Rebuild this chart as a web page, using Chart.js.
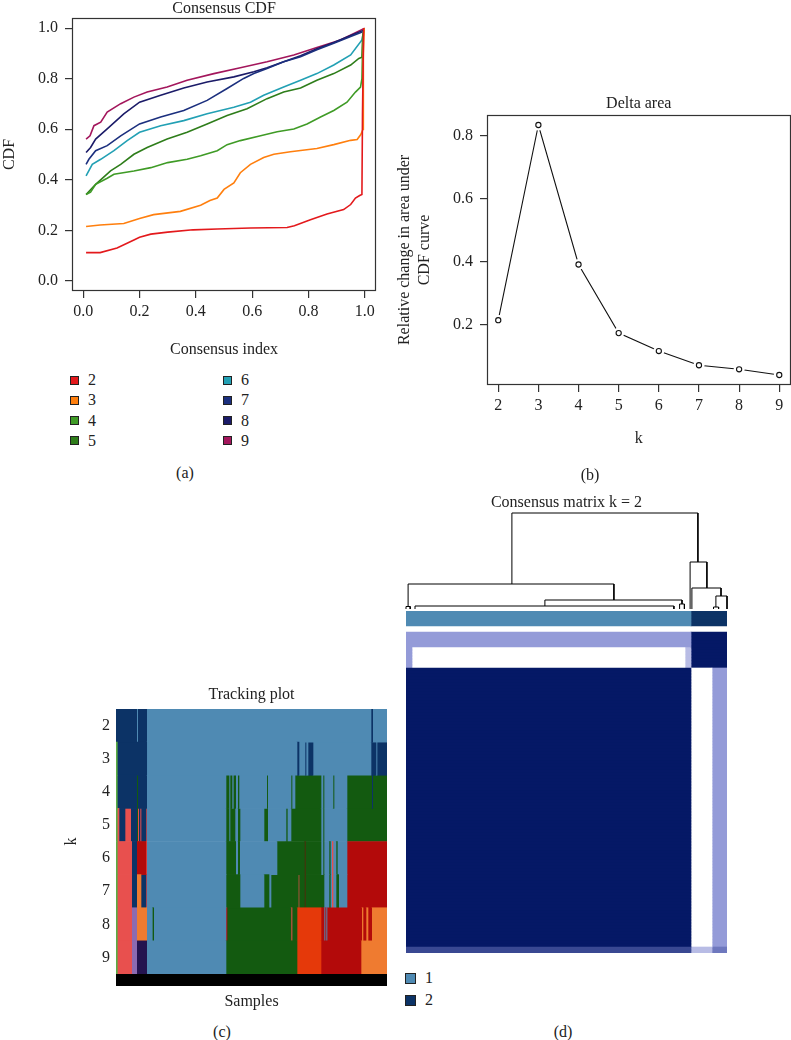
<!DOCTYPE html>
<html>
<head>
<meta charset="utf-8">
<script src="https://cdn.jsdelivr.net/npm/chart.js@4.4.1/dist/chart.umd.min.js"></script>
<style>
  body { margin: 0; background: #fff; }
  #page { position: relative; width: 791px; height: 1040px; overflow: hidden; background: #fff;
          font-family: 'Liberation Serif', 'DejaVu Serif', serif; font-size: 16px; color: #222; }
  canvas { position: absolute; }
  .lbl { position: absolute; transform: translate(-50%, -50%); white-space: nowrap; }
  .key { position: absolute; display: flex; align-items: center; transform: translateY(-50%); }
  .key span.sw { display: inline-block; border: 1px solid #222; margin-right: 9px; }
</style>
</head>
<body>
<div id="page">
  <canvas id="cdfChart" width="391" height="360" style="left:0;top:0"></canvas>
  <canvas id="deltaChart" width="405" height="380" style="left:391px;top:80px"></canvas>
  <canvas id="trackChart" width="340" height="350" style="left:60px;top:670px"></canvas>
  <canvas id="treeChart" width="341" height="127" style="left:396px;top:483px"></canvas>
  <canvas id="matrixChart" width="321" height="342" style="left:406px;top:611px"></canvas>
  <div id="cdfLegend"></div>
  <div id="matrixLegend"></div>
  <div class="lbl" style="left:185px;top:473px">(a)</div>
  <div class="lbl" style="left:590px;top:475px">(b)</div>
  <div class="lbl" style="left:222px;top:1032px">(c)</div>
  <div class="lbl" style="left:563px;top:1032px">(d)</div>
</div>
<script>
// ---- (a) Consensus CDF : [consensus index, CDF] par k
const cdfK = ['2', '3', '4', '5', '6', '7', '8', '9'];
const cdfColors = ['#e3191c', '#ff7f0e', '#3f9b26', '#2e7d1a', '#22a0b4', '#1b2f7e', '#1b1b68', '#a3165c'];
const cdf2 = [[0.01,0.112],[0.06,0.112],[0.12,0.13],[0.18,0.162],[0.2,0.173],[0.24,0.185],[0.30,0.193],[0.39,0.202],[0.476,0.205],[0.594,0.209],[0.724,0.211],[0.75,0.218],[0.807,0.242],[0.866,0.265],[0.925,0.282],[0.95,0.302],[0.967,0.328],[0.982,0.338],[0.99,0.342],[0.992,0.66],[0.996,1.0]];
const cdf3 = [[0.01,0.215],[0.06,0.221],[0.144,0.227],[0.2,0.247],[0.25,0.262],[0.345,0.275],[0.417,0.299],[0.45,0.318],[0.476,0.328],[0.5,0.362],[0.535,0.388],[0.558,0.428],[0.594,0.461],[0.641,0.488],[0.677,0.501],[0.736,0.511],[0.83,0.524],[0.89,0.539],[0.95,0.556],[0.973,0.559],[0.986,0.579],[0.994,0.6],[0.995,0.9],[0.998,1.0]];
const cdf4 = [[0.01,0.342],[0.026,0.351],[0.044,0.382],[0.085,0.406],[0.109,0.422],[0.18,0.435],[0.24,0.448],[0.30,0.468],[0.369,0.481],[0.417,0.495],[0.476,0.515],[0.511,0.539],[0.558,0.555],[0.63,0.574],[0.689,0.590],[0.748,0.601],[0.795,0.621],[0.843,0.648],[0.89,0.674],[0.937,0.707],[0.967,0.747],[0.985,0.767],[0.99,0.8],[0.993,0.95],[0.998,1.0]];
const cdf5 = [[0.01,0.342],[0.044,0.382],[0.097,0.435],[0.133,0.461],[0.18,0.501],[0.227,0.528],[0.298,0.561],[0.369,0.588],[0.44,0.621],[0.511,0.654],[0.582,0.681],[0.653,0.721],[0.712,0.747],[0.772,0.763],[0.83,0.794],[0.89,0.82],[0.95,0.854],[0.979,0.88],[0.99,0.885],[0.993,0.97],[0.998,1.0]];
const cdf6 = [[0.01,0.415],[0.032,0.461],[0.062,0.481],[0.109,0.515],[0.156,0.555],[0.2,0.588],[0.275,0.614],[0.357,0.634],[0.44,0.661],[0.535,0.687],[0.594,0.707],[0.641,0.734],[0.712,0.767],[0.772,0.794],[0.83,0.82],[0.89,0.854],[0.95,0.894],[0.99,0.953],[0.998,1.0]];
const cdf7 = [[0.01,0.461],[0.02,0.481],[0.044,0.515],[0.085,0.535],[0.133,0.574],[0.2,0.621],[0.275,0.648],[0.357,0.674],[0.44,0.714],[0.511,0.761],[0.57,0.801],[0.606,0.82],[0.653,0.840],[0.712,0.867],[0.772,0.887],[0.83,0.914],[0.89,0.94],[0.95,0.967],[0.996,0.987],[0.998,1.0]];
const cdf8 = [[0.01,0.508],[0.026,0.528],[0.044,0.561],[0.085,0.601],[0.144,0.661],[0.2,0.707],[0.275,0.734],[0.357,0.763],[0.44,0.787],[0.535,0.807],[0.606,0.827],[0.653,0.843],[0.712,0.867],[0.772,0.891],[0.83,0.918],[0.89,0.943],[0.95,0.971],[0.999,0.993]];
const cdf9 = [[0.01,0.561],[0.024,0.574],[0.038,0.614],[0.062,0.628],[0.085,0.668],[0.133,0.701],[0.18,0.727],[0.227,0.747],[0.298,0.767],[0.369,0.794],[0.464,0.82],[0.558,0.843],[0.653,0.867],[0.748,0.894],[0.83,0.923],[0.914,0.953],[1.0,1.0]];
const cdfTicks = [0, 0.2, 0.4, 0.6, 0.8, 1.0];

// ---- (b) Delta area
const deltaK = [2, 3, 4, 5, 6, 7, 8, 9];
const deltaValues = [0.213, 0.833, 0.39, 0.172, 0.115, 0.07, 0.057, 0.039];
const deltaYTicks = [0.2, 0.4, 0.6, 0.8];

// ---- (c) Tracking plot : segments [fin, couleur] (échantillons 0..271)
const trackK = ['2', '3', '4', '5', '6', '7', '8', '9'];
const nSamples = 271;
const trackPalette = {
  LB: '#4f8ab3', DB: '#0c3366', G: '#135a10', LG: '#5aac44', R: '#e8504e', DR: '#b30a0a',
  O: '#ef7b30', OR: '#e5390a', P: '#8c6bb1', DP: '#24134f', BR: '#3b3a0c'
};
const track2 = [[20.7,'DB'],[21.7,'LB'],[30.7,'DB'],[255,'LB'],[256.7,'DB'],[271,'LB']];
const track3 = [[1.3,'LG'],[30.7,'DB'],[181,'LB'],[183,'DB'],[189,'LB'],[190,'DB'],[192,'LB'],[197,'DB'],[255,'LB'],[260,'DB'],[261,'LB'],[271,'DB']];
const track4 = [[1.3,'LG'],[20.7,'DB'],[21.7,'G'],[30.7,'DB'],[110,'LB'],[113,'G'],[114,'LB'],[116,'G'],[117.3,'LB'],[119.7,'G'],[121.7,'LB'],[123,'G'],[150.7,'LB'],[151.7,'G'],[175,'LB'],[176,'G'],[179,'LB'],[205,'G'],[207,'LB'],[208,'G'],[217,'LB'],[218,'G'],[231,'LB'],[255.7,'G'],[256.7,'DB'],[271,'G']];
const track5 = [[1.3,'LG'],[3,'R'],[9,'DB'],[14.7,'R'],[20.7,'DB'],[21.7,'G'],[22.7,'R'],[24,'DB'],[25,'R'],[30,'DB'],[30.7,'R'],[110,'LB'],[113,'G'],[114,'LB'],[119,'G'],[121.7,'LB'],[124,'G'],[148,'LB'],[151.7,'G'],[170,'LB'],[171.3,'G'],[175,'LB'],[205,'G'],[207,'LB'],[208,'G'],[231,'LB'],[271,'G']];
const track6 = [[1.3,'LG'],[15.7,'R'],[20.7,'DB'],[30,'DR'],[30.7,'R'],[110,'LB'],[119.7,'G'],[121.7,'LB'],[123.7,'G'],[161,'LB'],[188.3,'G'],[189.7,'BR'],[205,'G'],[207,'LB'],[208,'G'],[213,'LB'],[214.3,'G'],[215.7,'LB'],[217,'R'],[220,'LB'],[221.3,'G'],[231,'LB'],[271,'DR']];
const track7 = [[1.3,'LG'],[15.7,'R'],[20.7,'DB'],[25,'O'],[30,'DB'],[30.7,'R'],[110,'LB'],[124,'G'],[148,'LB'],[153,'G'],[155,'LB'],[182.3,'G'],[183,'R'],[188.3,'G'],[189.7,'BR'],[208,'G'],[213,'LB'],[214.3,'G'],[215.7,'LB'],[217,'R'],[220,'LB'],[222.7,'G'],[231,'LB'],[271,'DR']];
const track8 = [[1.3,'LG'],[15.7,'R'],[20.7,'P'],[30.7,'O'],[36.3,'LB'],[37.7,'G'],[110,'LB'],[111,'DR'],[175,'G'],[176,'R'],[181,'G'],[205,'OR'],[208,'DR'],[209,'LB'],[210,'DR'],[211,'LB'],[245.7,'DR'],[247,'O'],[250,'DR'],[252,'O'],[255.7,'DR'],[271,'O']];
const track9 = [[1.3,'LG'],[15.7,'R'],[20.7,'P'],[30.7,'DP'],[110,'LB'],[181,'G'],[205,'OR'],[245,'DR'],[271,'O']];

// ---- (d) Consensus matrix k = 2 (107 échantillons ; 95 + 12)
const clusterNames = ['1', '2'];
const clusterColors = ['#4f8ab3', '#0c3366'];
const clusterBar = [[0, 95, 0], [95, 107, 1]];
// blocs de lignes : nombre de lignes, segments [début, fin, consensus]
const matrixBlocks = [
  { rows: 5,  segs: [[0, 95, 0.45], [95, 107, 1]] },
  { rows: 7,  segs: [[0, 2, 0.45], [2, 93, 0], [93, 95, 0.3], [95, 107, 1]] },
  { rows: 93, segs: [[0, 95, 1], [95, 102, 0], [102, 107, 0.45]] },
  { rows: 2,  segs: [[0, 95, 0.8], [95, 102, 0.3], [102, 107, 0.6]] }
];
// dendrogramme : [x gauche, x droite, hauteur, hauteur enfant gauche, hauteur enfant droit]
const treeLinks = [
  [35.3, 97.3, 96, 25, 47],
  [0.7, 69.3, 25, 2.5, 9],
  [0, 1.4, 2.5, 0, 0],
  [46.3, 92, 9, 3, 5],
  [3, 89.3, 3, 0, 0],
  [91.2, 92.8, 5, 0, 0],
  [94.7, 100.3, 47, 0, 21],
  [95.3, 105, 21, 0, 13],
  [103.3, 107, 13, 2, 0],
  [102.5, 104.2, 2, 0, 0]
];

// ---------------------------------------------------------------
const serif = "'Liberation Serif', 'DejaVu Serif', serif";
Chart.defaults.font.family = serif;
Chart.defaults.font.size = 16;
Chart.defaults.color = '#222';
Chart.defaults.animation = false;
Chart.defaults.responsive = false;
Chart.defaults.devicePixelRatio = 1;
Chart.defaults.events = [];
Chart.defaults.plugins.legend.display = false;
Chart.defaults.plugins.tooltip.enabled = false;

const fixedTicks = values => scale => { scale.ticks = values.map(v => ({ value: v })); };

// cadre façon R autour de la zone de tracé
const boxPlugin = {
  id: 'box',
  afterDraw(chart) {
    const { ctx, chartArea: a } = chart;
    ctx.save();
    ctx.strokeStyle = '#333';
    ctx.lineWidth = 1.2;
    ctx.strokeRect(Math.round(a.left) + 0.5, Math.round(a.top) + 0.5, Math.round(a.width) - 1, Math.round(a.height) - 1);
    ctx.restore();
  }
};

function axisCommon(extra) {
  return Object.assign({
    type: 'linear',
    grid: { drawOnChartArea: false, drawTicks: true, tickLength: 7, color: '#333', lineWidth: 1.2 },
    border: { display: false }
  }, extra);
}

// (a) Consensus CDF
const cdfSeries = [cdf2, cdf3, cdf4, cdf5, cdf6, cdf7, cdf8, cdf9];
new Chart(document.getElementById('cdfChart'), {
  type: 'line',
  data: {
    datasets: cdfSeries.map((s, i) => ({
      label: cdfK[i],
      data: s.map(p => ({ x: p[0], y: p[1] })),
      borderColor: cdfColors[i],
      borderWidth: 1.6,
      pointRadius: 0,
      tension: 0
    }))
  },
  options: {
    layout: { padding: { left: 0, right: 15, top: 0, bottom: 0 } },
    plugins: {
      title: { display: true, fullSize: false, text: 'Consensus CDF', color: '#222',
               font: { size: 16, weight: 'normal', lineHeight: '18px' }, padding: { top: 0, bottom: 0 } }
    },
    scales: {
      x: axisCommon({
        min: -0.04, max: 1.04,
        afterBuildTicks: fixedTicks(cdfTicks),
        afterFit: s => { s.height = 69; },
        ticks: { padding: 4, maxRotation: 0, autoSkip: false, callback: v => v.toFixed(1) },
        title: { display: true, text: 'Consensus index', font: { size: 16, lineHeight: 1.2 }, padding: { top: 0, bottom: 0.4 } }
      }),
      y: axisCommon({
        min: -0.04, max: 1.04,
        afterBuildTicks: fixedTicks(cdfTicks),
        afterFit: s => { s.width = 72; },
        ticks: { padding: 7, autoSkip: false, callback: v => v.toFixed(1) },
        title: { display: true, text: 'CDF', font: { size: 16, lineHeight: 1.2 }, padding: { top: 0.4, bottom: 0 } }
      })
    }
  },
  plugins: [boxPlugin]
});

// légende (a) en deux colonnes
const cdfLegend = document.getElementById('cdfLegend');
cdfK.forEach((k, i) => {
  const el = document.createElement('div');
  el.className = 'key';
  el.style.left = (i < 4 ? 70 : 223) + 'px';
  el.style.top = (380 + (i % 4) * 20.3) + 'px';
  el.innerHTML = '<span class="sw" style="width:7px;height:7px;background:' + cdfColors[i] + '"></span>' + k;
  cdfLegend.appendChild(el);
});

// (b) Delta area
const deltaPts = deltaK.map((k, i) => ({ x: k, y: deltaValues[i] }));
new Chart(document.getElementById('deltaChart'), {
  type: 'line',
  data: {
    datasets: [
      { data: deltaPts, borderColor: '#111', borderWidth: 1.1, pointRadius: 0, tension: 0, order: 3 },
      { data: deltaPts, showLine: false, pointRadius: 5.5, pointBorderWidth: 0, pointBackgroundColor: '#fff', order: 2 },
      { data: deltaPts, showLine: false, pointRadius: 2.6, pointBorderWidth: 1.1, pointBorderColor: '#111', pointBackgroundColor: '#fff', order: 1 }
    ]
  },
  options: {
    layout: { padding: { left: 0, right: 1, top: 0, bottom: 0 } },
    plugins: {
      title: { display: true, fullSize: false, text: 'Delta area', color: '#222',
               font: { size: 16, weight: 'normal', lineHeight: '20px' }, padding: { top: 14, bottom: 1 } }
    },
    scales: {
      x: axisCommon({
        min: 1.72, max: 9.28,
        afterBuildTicks: fixedTicks(deltaK),
        afterFit: s => { s.height = 75; },
        ticks: { padding: 4, maxRotation: 0, autoSkip: false, callback: v => String(v) },
        title: { display: true, text: 'k', font: { size: 16, lineHeight: 1.2 }, padding: { top: 0, bottom: 11.4 } }
      }),
      y: axisCommon({
        min: 0.0072, max: 0.8648,
        afterBuildTicks: fixedTicks(deltaYTicks),
        afterFit: s => { s.width = 96; },
        ticks: { padding: 7, autoSkip: false, callback: v => v.toFixed(1) },
        title: { display: true, text: ['Relative change in area under', 'CDF curve'],
                 font: { size: 16, lineHeight: '20px' }, padding: { top: 4, bottom: 0 } }
      })
    }
  },
  plugins: [boxPlugin]
});

// (c) Tracking plot : barres flottantes horizontales
function toSegments(row) {
  let start = 0;
  return row.map(([end, key]) => { const seg = [start, end, trackPalette[key]]; start = end; return seg; });
}
const trackRows = [track2, track3, track4, track5, track6, track7, track8, track9].map(toSegments);

function segmentDatasets(rows) {
  const nSeg = Math.max(...rows.map(r => r.length));
  const sets = [];
  for (let j = 0; j < nSeg; j++) {
    sets.push({
      data: rows.map(r => (r[j] ? [r[j][0], r[j][1]] : null)),
      backgroundColor: rows.map(r => (r[j] ? r[j][2] : 'rgba(0,0,0,0)')),
      borderWidth: 0,
      grouped: false,
      barPercentage: 1,
      categoryPercentage: 1
    });
  }
  return sets;
}

const sampleBarPlugin = {
  id: 'sampleBar',
  afterDatasetsDraw(chart) {
    const { ctx, chartArea: a } = chart;
    ctx.save();
    ctx.fillStyle = '#000';
    ctx.fillRect(a.left, a.bottom, a.width, 12);
    ctx.restore();
  }
};

new Chart(document.getElementById('trackChart'), {
  type: 'bar',
  data: { labels: trackK, datasets: segmentDatasets(trackRows) },
  options: {
    indexAxis: 'y',
    layout: { padding: { left: 0, right: 13, top: 0, bottom: 0 } },
    plugins: {
      title: { display: true, fullSize: false, text: 'Tracking plot', color: '#222',
               font: { size: 16, weight: 'normal', lineHeight: '20px' }, padding: { top: 15, bottom: 4 } }
    },
    scales: {
      x: {
        type: 'linear', min: 0, max: nSamples,
        ticks: { display: false },
        grid: { display: false, drawTicks: false },
        border: { display: false },
        afterFit: s => { s.height = 46; },
        title: { display: true, text: 'Samples', font: { size: 16, lineHeight: 1.2 }, padding: { top: 0, bottom: 8.4 } }
      },
      y: {
        type: 'category',
        ticks: { padding: 6 },
        grid: { display: false, drawTicks: false },
        border: { display: false },
        afterFit: s => { s.width = 56; },
        title: { display: true, text: 'k', font: { size: 16, lineHeight: 1.2 }, padding: { top: 2.4, bottom: 0 } }
      }
    }
  },
  plugins: [sampleBarPlugin]
});

// (d) dendrogramme
const treePts = [];
treeLinks.forEach(([xl, xr, h, hl, hr]) => {
  treePts.push({ x: xl, y: hl }, { x: xl, y: h }, { x: xr, y: h }, { x: xr, y: hr }, { x: xr, y: null });
});
new Chart(document.getElementById('treeChart'), {
  type: 'scatter',
  data: {
    datasets: [{ data: treePts, showLine: true, spanGaps: false, borderColor: '#000', borderWidth: 1,
                 pointRadius: 0, clip: false }]
  },
  options: {
    layout: { padding: { left: 10, right: 10, top: 0, bottom: 1 } },
    plugins: {
      title: { display: true, text: 'Consensus matrix k = 2', color: '#222',
               font: { size: 16, weight: 'normal', lineHeight: '20px' }, padding: { top: 10, bottom: 0 } }
    },
    scales: {
      x: { type: 'linear', min: 0, max: 107, display: false },
      y: { type: 'linear', min: 0, max: 96, display: false }
    }
  }
});

// (d) matrice de consensus
function consensusColor(v) {
  const stops = [[0, [255, 255, 255]], [0.5, [136, 144, 212]], [1, [5, 24, 102]]];
  for (let i = 1; i < stops.length; i++) {
    if (v <= stops[i][0]) {
      const [v0, c0] = stops[i - 1], [v1, c1] = stops[i];
      const t = (v - v0) / (v1 - v0);
      return 'rgb(' + c0.map((c, k) => Math.round(c + (c1[k] - c) * t)).join(',') + ')';
    }
  }
  return 'rgb(5,24,102)';
}
const matrixRows = [];
const barRow = clusterBar.map(([a, b, c]) => [a, b, clusterColors[c]]);
for (let i = 0; i < 5; i++) matrixRows.push(barRow);
for (let i = 0; i < 2; i++) matrixRows.push([]);
matrixBlocks.forEach(block => {
  const row = block.segs.map(([a, b, v]) => [a, b, consensusColor(v)]);
  for (let i = 0; i < block.rows; i++) matrixRows.push(row);
});
new Chart(document.getElementById('matrixChart'), {
  type: 'bar',
  data: { labels: matrixRows.map((_, i) => String(i)), datasets: segmentDatasets(matrixRows) },
  options: {
    indexAxis: 'y',
    layout: { padding: 0 },
    scales: {
      x: { type: 'linear', min: 0, max: 107, display: false },
      y: { type: 'category', display: false }
    }
  }
});

// légende (d)
const matrixLegend = document.getElementById('matrixLegend');
clusterNames.forEach((name, i) => {
  const el = document.createElement('div');
  el.className = 'key';
  el.style.left = '405px';
  el.style.top = (978 + i * 22) + 'px';
  el.innerHTML = '<span class="sw" style="width:9px;height:9px;background:' + clusterColors[i] + '"></span>' + name;
  matrixLegend.appendChild(el);
});
</script>
</body>
</html>
